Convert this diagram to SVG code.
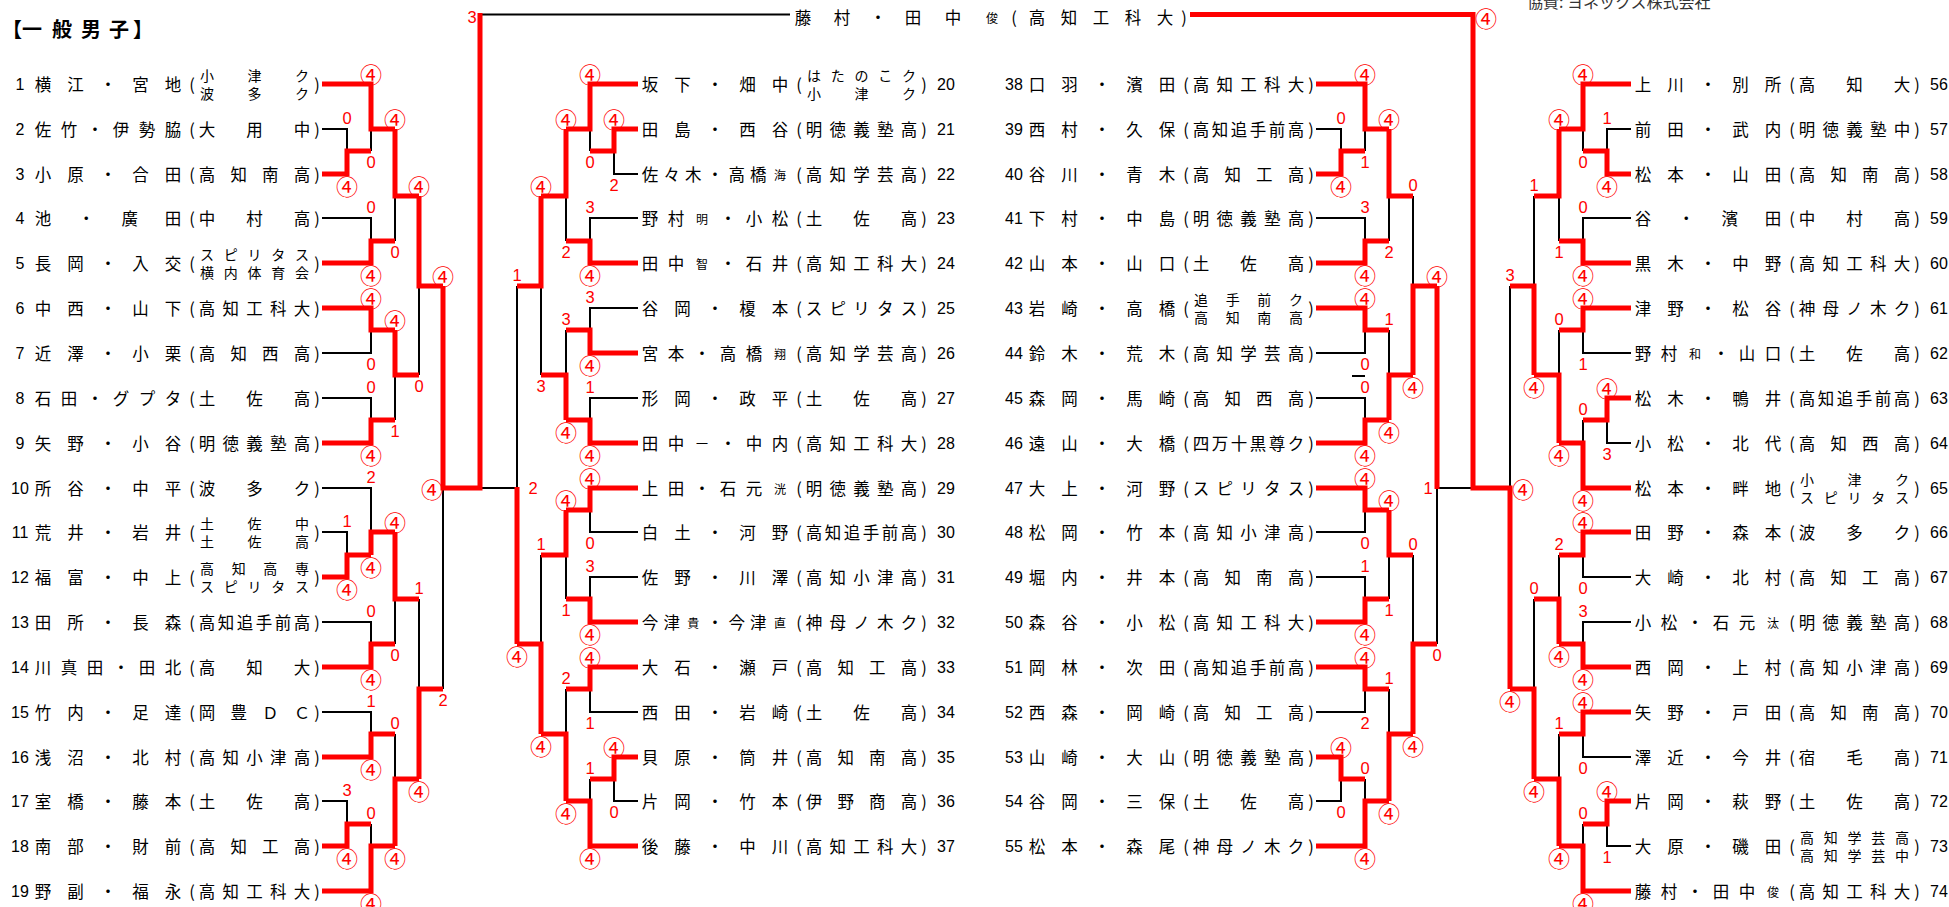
<svg xmlns="http://www.w3.org/2000/svg" width="1949" height="907" viewBox="0 0 1949 907">
<style>
text{font-family:"Noto Sans CJK JP","Noto Sans CJK SC",sans-serif;font-size:16.5px;fill:#000;text-anchor:middle;dominant-baseline:central}
.no{font-family:"Liberation Sans",Arial,sans-serif;font-size:16px}
.nr{font-family:"Liberation Sans",Arial,sans-serif;font-size:16px;text-anchor:start}
.tw{font-size:14px}
.sm{font-size:12px}
.d{font-family:"Liberation Sans",Arial,sans-serif;font-size:16.5px;fill:#f00}
.q{font-size:22px;fill:#f00}
.ttl{font-size:20px;font-weight:bold}
.r{fill:none;stroke:#f00;stroke-width:5;stroke-linejoin:miter}
.b{fill:none;stroke:#000;stroke-width:2}
</style>
<rect width="1949" height="907" fill="#fff"/>
<g id="title"><text class="ttl" y="28" x="12 32 62 91 119 143">【一般男子】</text></g>
<g id="sponsor"><text x="1527" y="8" style="text-anchor:start;dominant-baseline:alphabetic;font-size:16px;fill:#333">協賛: ヨネックス株式会社</text></g>
<g id="champion"><text y="17" x="803 842 878 913 953 992 1014 1037 1069 1101 1133 1165 1184">藤村・田中<tspan class="sm">俊</tspan>(高知工科大)</text></g>

<g id="connectors">
<path class="b" d="M322 129H347V151M371 151V129M322 218H371V241M395 241V196M322 353H371V330M322 398H371V420M395 420V375M419 375V286M322 532H347V555M322 488H371V532M322 622H371V644M395 644V599M322 712H371V734M322 801H347V824M371 824V846M395 734V779M419 599V689M443 689V488M480 14.5H790M517 488H480
M638 174H614V151M590 151V129M638 218H590V241M566 241V196M638 308H590V330M638 398H590V420M566 330V375M541 375V286M638 532H590V510M638 577H590V599M566 599V555M638 712H590V689M638 801H614V779M590 779V801M566 689V734M541 555V644M517 286V488
M1316 129H1341V151M1365 151V129M1316 218H1365V241M1389 241V196M1316 353H1365V330M1316 398H1365V420M1389 330V375M1413 196V286M1316 532H1365V510M1316 577H1365V599M1389 599V555M1316 712H1365V689M1316 801H1341V779M1365 779V801M1389 689V734M1413 555V644M1437 644V488M1437 488H1473M1352 376H1365
M1631 129H1607V151M1583 151V129M1631 218H1583V241M1559 241V196M1631 353H1583V330M1631 443H1607V420M1583 420V443M1559 330V375M1534 196V286M1631 577H1583V555M1631 622H1583V644M1559 555V599M1631 757H1583V734M1631 846H1607V824M1583 824V846M1559 734V779M1534 599V689M1510 286V488"/>
<path class="r" d="M322 174H347V151H371M322 84H371V129H395M322 263H371V241H395M395 129V196H419M322 308H371V330H395M322 443H371V420H395M395 330V375H419M419 196V286H443M322 577H347V555H371M371 555V532H395M322 667H371V644H395M395 532V599H419M322 757H371V734H395M322 846H347V824H371M322 891H371V846H395M395 846V779H419M419 779V689H443M443 286V488H480V13
M638 129H614V151H590M638 84H590V129H566M638 263H590V241H566M566 129V196H541M638 353H590V330H566M638 443H590V420H566M566 420V375H541M541 196V286H517M638 488H590V510H566M638 622H590V599H566M566 510V555H541M638 667H590V689H566M638 757H614V779H590M638 846H590V801H566M566 801V734H541M541 734V644H517M517 644V487
M1316 174H1341V151H1365M1316 84H1365V129H1389M1316 263H1365V241H1389M1389 129V196H1413M1316 308H1365V330H1389M1316 443H1365V420H1389M1389 420V375H1413M1413 375V286H1437M1316 488H1365V510H1389M1316 622H1365V599H1389M1389 510V555H1413M1316 667H1365V689H1389M1316 757H1341V779H1365M1316 846H1365V801H1389M1389 801V734H1413M1413 734V644H1437M1437 286V489
M1631 174H1607V151H1583M1631 84H1583V129H1559M1631 263H1583V241H1559M1559 129V196H1534M1631 308H1583V330H1559M1631 398H1607V420H1583M1631 488H1583V443H1559M1559 443V375H1534M1534 375V286H1510M1631 532H1583V555H1559M1631 667H1583V644H1559M1559 644V599H1534M1631 712H1583V734H1559M1631 801H1607V824H1583M1631 891H1583V846H1559M1559 846V779H1534M1534 779V689H1510M1510 689V488H1473V14.5H1190"/>
</g>

<g id="scores">
<text class="d" x="347" y="118">0</text><text class="q" x="347" y="185">④</text>
<text class="q" x="371" y="73">④</text><text class="d" x="371" y="162">0</text>
<text class="d" x="371" y="207">0</text><text class="q" x="371" y="274">④</text>
<text class="q" x="395" y="118">④</text><text class="d" x="395" y="252">0</text>
<text class="q" x="371" y="297">④</text><text class="d" x="371" y="364">0</text>
<text class="d" x="371" y="387">0</text><text class="q" x="371" y="454">④</text>
<text class="q" x="395" y="319">④</text><text class="d" x="395" y="431">1</text>
<text class="q" x="419" y="185">④</text><text class="d" x="419" y="386">0</text>
<text class="d" x="347" y="521">1</text><text class="q" x="347" y="588">④</text>
<text class="d" x="371" y="477">2</text><text class="q" x="371" y="566">④</text>
<text class="d" x="371" y="611">0</text><text class="q" x="371" y="678">④</text>
<text class="q" x="395" y="521">④</text><text class="d" x="395" y="655">0</text>
<text class="d" x="371" y="701">1</text><text class="q" x="371" y="768">④</text>
<text class="d" x="347" y="790">3</text><text class="q" x="347" y="857">④</text>
<text class="d" x="371" y="813">0</text><text class="q" x="371" y="902">④</text>
<text class="d" x="395" y="723">0</text><text class="q" x="395" y="857">④</text>
<text class="d" x="419" y="588">1</text><text class="q" x="419" y="790">④</text>
<text class="q" x="443" y="275">④</text><text class="d" x="443" y="700">2</text>
<text class="q" x="432" y="488">④</text><text class="d" x="472" y="17">3</text>

<text class="q" x="614" y="118">④</text><text class="d" x="614" y="185">2</text>
<text class="q" x="590" y="73">④</text><text class="d" x="590" y="162">0</text>
<text class="d" x="590" y="207">3</text><text class="q" x="590" y="274">④</text>
<text class="q" x="566" y="118">④</text><text class="d" x="566" y="252">2</text>
<text class="d" x="590" y="297">3</text><text class="q" x="590" y="364">④</text>
<text class="d" x="590" y="387">1</text><text class="q" x="590" y="454">④</text>
<text class="d" x="566" y="319">3</text><text class="q" x="566" y="431">④</text>
<text class="q" x="541" y="185">④</text><text class="d" x="541" y="386">3</text>
<text class="q" x="590" y="477">④</text><text class="d" x="590" y="543">0</text>
<text class="d" x="590" y="566">3</text><text class="q" x="590" y="633">④</text>
<text class="q" x="566" y="499">④</text><text class="d" x="566" y="610">1</text>
<text class="q" x="590" y="656">④</text><text class="d" x="590" y="723">1</text>
<text class="q" x="614" y="746">④</text><text class="d" x="614" y="812">0</text>
<text class="d" x="590" y="768">1</text><text class="q" x="590" y="857">④</text>
<text class="d" x="566" y="678">2</text><text class="q" x="566" y="812">④</text>
<text class="d" x="541" y="544">1</text><text class="q" x="541" y="745">④</text>
<text class="d" x="517" y="275">1</text><text class="q" x="517" y="655">④</text>
<text class="d" x="533" y="488">2</text>

<text class="d" x="1341" y="118">0</text><text class="q" x="1341" y="185">④</text>
<text class="q" x="1365" y="73">④</text><text class="d" x="1365" y="162">1</text>
<text class="d" x="1365" y="207">3</text><text class="q" x="1365" y="274">④</text>
<text class="q" x="1389" y="118">④</text><text class="d" x="1389" y="252">2</text>
<text class="q" x="1365" y="297">④</text><text class="d" x="1365" y="364">0</text>
<text class="d" x="1365" y="387">0</text><text class="q" x="1365" y="454">④</text>
<text class="d" x="1389" y="319">1</text><text class="q" x="1389" y="431">④</text>
<text class="d" x="1413" y="185">0</text><text class="q" x="1413" y="386">④</text>
<text class="q" x="1365" y="477">④</text><text class="d" x="1365" y="543">0</text>
<text class="d" x="1365" y="566">1</text><text class="q" x="1365" y="633">④</text>
<text class="q" x="1389" y="499">④</text><text class="d" x="1389" y="610">1</text>
<text class="q" x="1365" y="656">④</text><text class="d" x="1365" y="723">2</text>
<text class="q" x="1341" y="746">④</text><text class="d" x="1341" y="812">0</text>
<text class="d" x="1365" y="768">0</text><text class="q" x="1365" y="857">④</text>
<text class="d" x="1389" y="678">1</text><text class="q" x="1389" y="812">④</text>
<text class="d" x="1413" y="544">0</text><text class="q" x="1413" y="745">④</text>
<text class="q" x="1437" y="275">④</text><text class="d" x="1437" y="655">0</text>
<text class="d" x="1428" y="488">1</text>

<text class="d" x="1607" y="118">1</text><text class="q" x="1607" y="185">④</text>
<text class="q" x="1583" y="73">④</text><text class="d" x="1583" y="162">0</text>
<text class="d" x="1583" y="207">0</text><text class="q" x="1583" y="274">④</text>
<text class="q" x="1559" y="118">④</text><text class="d" x="1559" y="252">1</text>
<text class="q" x="1583" y="297">④</text><text class="d" x="1583" y="364">1</text>
<text class="q" x="1607" y="387">④</text><text class="d" x="1607" y="454">3</text>
<text class="d" x="1583" y="409">0</text><text class="q" x="1583" y="499">④</text>
<text class="d" x="1559" y="319">0</text><text class="q" x="1559" y="454">④</text>
<text class="d" x="1534" y="185">1</text><text class="q" x="1534" y="386">④</text>
<text class="q" x="1583" y="521">④</text><text class="d" x="1583" y="588">0</text>
<text class="d" x="1583" y="611">3</text><text class="q" x="1583" y="678">④</text>
<text class="d" x="1559" y="544">2</text><text class="q" x="1559" y="655">④</text>
<text class="q" x="1583" y="701">④</text><text class="d" x="1583" y="768">0</text>
<text class="q" x="1607" y="790">④</text><text class="d" x="1607" y="857">1</text>
<text class="d" x="1583" y="813">0</text><text class="q" x="1583" y="902">④</text>
<text class="d" x="1559" y="723">1</text><text class="q" x="1559" y="857">④</text>
<text class="d" x="1534" y="588">0</text><text class="q" x="1534" y="790">④</text>
<text class="d" x="1510" y="275">3</text><text class="q" x="1510" y="700">④</text>
<text class="q" x="1523" y="488">④</text><text class="q" x="1486" y="17">④</text>
</g>

<g id="entries">
<g id="e1" transform="translate(0,84)"><text class="no" x="20">1</text><text x="43 75.5 108 140.5 173">横江・宮地</text><text x="192 317">()</text><text class="tw" y="-9" x="207 254.5 302">小津ク</text><text class="tw" y="9" x="207 254.5 302">波多ク</text></g>
<g id="e2" transform="translate(0,129)"><text class="no" x="20">2</text><text x="43 69 95 121 147 173">佐竹・伊勢脇</text><text x="192 207 254.5 302 317">(大用中)</text></g>
<g id="e3" transform="translate(0,174)"><text class="no" x="20">3</text><text x="43 75.5 108 140.5 173">小原・合田</text><text x="192 207 238.7 270.3 302 317">(高知南高)</text></g>
<g id="e4" transform="translate(0,218)"><text class="no" x="20">4</text><text x="43 86.3 129.7 173">池・廣田</text><text x="192 207 254.5 302 317">(中村高)</text></g>
<g id="e5" transform="translate(0,263)"><text class="no" x="20">5</text><text x="43 75.5 108 140.5 173">長岡・入交</text><text x="192 317">()</text><text class="tw" y="-9" x="207 230.75 254.5 278.25 302">スピリタス</text><text class="tw" y="9" x="207 230.75 254.5 278.25 302">横内体育会</text></g>
<g id="e6" transform="translate(0,308)"><text class="no" x="20">6</text><text x="43 75.5 108 140.5 173">中西・山下</text><text x="192 207 230.75 254.5 278.25 302 317">(高知工科大)</text></g>
<g id="e7" transform="translate(0,353)"><text class="no" x="20">7</text><text x="43 75.5 108 140.5 173">近澤・小栗</text><text x="192 207 238.7 270.3 302 317">(高知西高)</text></g>
<g id="e8" transform="translate(0,398)"><text class="no" x="20">8</text><text x="43 69 95 121 147 173">石田・グプタ</text><text x="192 207 254.5 302 317">(土佐高)</text></g>
<g id="e9" transform="translate(0,443)"><text class="no" x="20">9</text><text x="43 75.5 108 140.5 173">矢野・小谷</text><text x="192 207 230.75 254.5 278.25 302 317">(明徳義塾高)</text></g>
<g id="e10" transform="translate(0,488)"><text class="no" x="20">10</text><text x="43 75.5 108 140.5 173">所谷・中平</text><text x="192 207 254.5 302 317">(波多ク)</text></g>
<g id="e11" transform="translate(0,532)"><text class="no" x="20">11</text><text x="43 75.5 108 140.5 173">荒井・岩井</text><text x="192 317">()</text><text class="tw" y="-9" x="207 254.5 302">土佐中</text><text class="tw" y="9" x="207 254.5 302">土佐高</text></g>
<g id="e12" transform="translate(0,577)"><text class="no" x="20">12</text><text x="43 75.5 108 140.5 173">福富・中上</text><text x="192 317">()</text><text class="tw" y="-9" x="207 238.7 270.3 302">高知高専</text><text class="tw" y="9" x="207 230.75 254.5 278.25 302">スピリタス</text></g>
<g id="e13" transform="translate(0,622)"><text class="no" x="20">13</text><text x="43 75.5 108 140.5 173">田所・長森</text><text x="192 207 226 245 264 283 302 317">(高知追手前高)</text></g>
<g id="e14" transform="translate(0,667)"><text class="no" x="20">14</text><text x="43 69 95 121 147 173">川真田・田北</text><text x="192 207 254.5 302 317">(高知大)</text></g>
<g id="e15" transform="translate(0,712)"><text class="no" x="20">15</text><text x="43 75.5 108 140.5 173">竹内・足達</text><text x="192 207 238.7 270.3 302 317">(岡豊ＤＣ)</text></g>
<g id="e16" transform="translate(0,757)"><text class="no" x="20">16</text><text x="43 75.5 108 140.5 173">浅沼・北村</text><text x="192 207 230.75 254.5 278.25 302 317">(高知小津高)</text></g>
<g id="e17" transform="translate(0,801)"><text class="no" x="20">17</text><text x="43 75.5 108 140.5 173">室橋・藤本</text><text x="192 207 254.5 302 317">(土佐高)</text></g>
<g id="e18" transform="translate(0,846)"><text class="no" x="20">18</text><text x="43 75.5 108 140.5 173">南部・財前</text><text x="192 207 238.7 270.3 302 317">(高知工高)</text></g>
<g id="e19" transform="translate(0,891)"><text class="no" x="20">19</text><text x="43 75.5 108 140.5 173">野副・福永</text><text x="192 207 230.75 254.5 278.25 302 317">(高知工科大)</text></g>

<g id="e20" transform="translate(607,84)"><text x="43 75.5 108 140.5 173">坂下・畑中</text><text x="192 317">()</text><text class="tw" y="-9" x="207 230.75 254.5 278.25 302">はたのこク</text><text class="tw" y="9" x="207 254.5 302">小津ク</text><text class="nr" x="330">20</text></g>
<g id="e21" transform="translate(607,129)"><text x="43 75.5 108 140.5 173">田島・西谷</text><text x="192 207 230.75 254.5 278.25 302 317">(明徳義塾高)</text><text class="nr" x="330">21</text></g>
<g id="e22" transform="translate(607,174)"><text x="43 64.7 86.3 108 129.7 151.3 173">佐々木・高橋<tspan class="sm">海</tspan></text><text x="192 207 230.75 254.5 278.25 302 317">(高知学芸高)</text><text class="nr" x="330">22</text></g>
<g id="e23" transform="translate(607,218)"><text x="43 69 95 121 147 173">野村<tspan class="sm">明</tspan>・小松</text><text x="192 207 254.5 302 317">(土佐高)</text><text class="nr" x="330">23</text></g>
<g id="e24" transform="translate(607,263)"><text x="43 69 95 121 147 173">田中<tspan class="sm">智</tspan>・石井</text><text x="192 207 230.75 254.5 278.25 302 317">(高知工科大)</text><text class="nr" x="330">24</text></g>
<g id="e25" transform="translate(607,308)"><text x="43 75.5 108 140.5 173">谷岡・榎本</text><text x="192 207 230.75 254.5 278.25 302 317">(スピリタス)</text><text class="nr" x="330">25</text></g>
<g id="e26" transform="translate(607,353)"><text x="43 69 95 121 147 173">宮本・高橋<tspan class="sm">翔</tspan></text><text x="192 207 230.75 254.5 278.25 302 317">(高知学芸高)</text><text class="nr" x="330">26</text></g>
<g id="e27" transform="translate(607,398)"><text x="43 75.5 108 140.5 173">形岡・政平</text><text x="192 207 254.5 302 317">(土佐高)</text><text class="nr" x="330">27</text></g>
<g id="e28" transform="translate(607,443)"><text x="43 69 95 121 147 173">田中<tspan class="sm">一</tspan>・中内</text><text x="192 207 230.75 254.5 278.25 302 317">(高知工科大)</text><text class="nr" x="330">28</text></g>
<g id="e29" transform="translate(607,488)"><text x="43 69 95 121 147 173">上田・石元<tspan class="sm">洸</tspan></text><text x="192 207 230.75 254.5 278.25 302 317">(明徳義塾高)</text><text class="nr" x="330">29</text></g>
<g id="e30" transform="translate(607,532)"><text x="43 75.5 108 140.5 173">白土・河野</text><text x="192 207 226 245 264 283 302 317">(高知追手前高)</text><text class="nr" x="330">30</text></g>
<g id="e31" transform="translate(607,577)"><text x="43 75.5 108 140.5 173">佐野・川澤</text><text x="192 207 230.75 254.5 278.25 302 317">(高知小津高)</text><text class="nr" x="330">31</text></g>
<g id="e32" transform="translate(607,622)"><text x="43 64.7 86.3 108 129.7 151.3 173">今津<tspan class="sm">貴</tspan>・今津<tspan class="sm">直</tspan></text><text x="192 207 230.75 254.5 278.25 302 317">(神母ノ木ク)</text><text class="nr" x="330">32</text></g>
<g id="e33" transform="translate(607,667)"><text x="43 75.5 108 140.5 173">大石・瀬戸</text><text x="192 207 238.7 270.3 302 317">(高知工高)</text><text class="nr" x="330">33</text></g>
<g id="e34" transform="translate(607,712)"><text x="43 75.5 108 140.5 173">西田・岩崎</text><text x="192 207 254.5 302 317">(土佐高)</text><text class="nr" x="330">34</text></g>
<g id="e35" transform="translate(607,757)"><text x="43 75.5 108 140.5 173">貝原・筒井</text><text x="192 207 238.7 270.3 302 317">(高知南高)</text><text class="nr" x="330">35</text></g>
<g id="e36" transform="translate(607,801)"><text x="43 75.5 108 140.5 173">片岡・竹本</text><text x="192 207 238.7 270.3 302 317">(伊野商高)</text><text class="nr" x="330">36</text></g>
<g id="e37" transform="translate(607,846)"><text x="43 75.5 108 140.5 173">後藤・中川</text><text x="192 207 230.75 254.5 278.25 302 317">(高知工科大)</text><text class="nr" x="330">37</text></g>

<g id="e38" transform="translate(994,84)"><text class="no" x="20">38</text><text x="43 75.5 108 140.5 173">口羽・濱田</text><text x="192 207 230.75 254.5 278.25 302 317">(高知工科大)</text></g>
<g id="e39" transform="translate(994,129)"><text class="no" x="20">39</text><text x="43 75.5 108 140.5 173">西村・久保</text><text x="192 207 226 245 264 283 302 317">(高知追手前高)</text></g>
<g id="e40" transform="translate(994,174)"><text class="no" x="20">40</text><text x="43 75.5 108 140.5 173">谷川・青木</text><text x="192 207 238.7 270.3 302 317">(高知工高)</text></g>
<g id="e41" transform="translate(994,218)"><text class="no" x="20">41</text><text x="43 75.5 108 140.5 173">下村・中島</text><text x="192 207 230.75 254.5 278.25 302 317">(明徳義塾高)</text></g>
<g id="e42" transform="translate(994,263)"><text class="no" x="20">42</text><text x="43 75.5 108 140.5 173">山本・山口</text><text x="192 207 254.5 302 317">(土佐高)</text></g>
<g id="e43" transform="translate(994,308)"><text class="no" x="20">43</text><text x="43 75.5 108 140.5 173">岩崎・高橋</text><text x="192 317">()</text><text class="tw" y="-9" x="207 238.7 270.3 302">追手前ク</text><text class="tw" y="9" x="207 238.7 270.3 302">高知南高</text></g>
<g id="e44" transform="translate(994,353)"><text class="no" x="20">44</text><text x="43 75.5 108 140.5 173">鈴木・荒木</text><text x="192 207 230.75 254.5 278.25 302 317">(高知学芸高)</text></g>
<g id="e45" transform="translate(994,398)"><text class="no" x="20">45</text><text x="43 75.5 108 140.5 173">森岡・馬崎</text><text x="192 207 238.7 270.3 302 317">(高知西高)</text></g>
<g id="e46" transform="translate(994,443)"><text class="no" x="20">46</text><text x="43 75.5 108 140.5 173">遠山・大橋</text><text x="192 207 226 245 264 283 302 317">(四万十黒尊ク)</text></g>
<g id="e47" transform="translate(994,488)"><text class="no" x="20">47</text><text x="43 75.5 108 140.5 173">大上・河野</text><text x="192 207 230.75 254.5 278.25 302 317">(スピリタス)</text></g>
<g id="e48" transform="translate(994,532)"><text class="no" x="20">48</text><text x="43 75.5 108 140.5 173">松岡・竹本</text><text x="192 207 230.75 254.5 278.25 302 317">(高知小津高)</text></g>
<g id="e49" transform="translate(994,577)"><text class="no" x="20">49</text><text x="43 75.5 108 140.5 173">堀内・井本</text><text x="192 207 238.7 270.3 302 317">(高知南高)</text></g>
<g id="e50" transform="translate(994,622)"><text class="no" x="20">50</text><text x="43 75.5 108 140.5 173">森谷・小松</text><text x="192 207 230.75 254.5 278.25 302 317">(高知工科大)</text></g>
<g id="e51" transform="translate(994,667)"><text class="no" x="20">51</text><text x="43 75.5 108 140.5 173">岡林・次田</text><text x="192 207 226 245 264 283 302 317">(高知追手前高)</text></g>
<g id="e52" transform="translate(994,712)"><text class="no" x="20">52</text><text x="43 75.5 108 140.5 173">西森・岡崎</text><text x="192 207 238.7 270.3 302 317">(高知工高)</text></g>
<g id="e53" transform="translate(994,757)"><text class="no" x="20">53</text><text x="43 75.5 108 140.5 173">山崎・大山</text><text x="192 207 230.75 254.5 278.25 302 317">(明徳義塾高)</text></g>
<g id="e54" transform="translate(994,801)"><text class="no" x="20">54</text><text x="43 75.5 108 140.5 173">谷岡・三保</text><text x="192 207 254.5 302 317">(土佐高)</text></g>
<g id="e55" transform="translate(994,846)"><text class="no" x="20">55</text><text x="43 75.5 108 140.5 173">松本・森尾</text><text x="192 207 230.75 254.5 278.25 302 317">(神母ノ木ク)</text></g>

<g id="e56" transform="translate(1600,84)"><text x="43 75.5 108 140.5 173">上川・別所</text><text x="192 207 254.5 302 317">(高知大)</text><text class="nr" x="330">56</text></g>
<g id="e57" transform="translate(1600,129)"><text x="43 75.5 108 140.5 173">前田・武内</text><text x="192 207 230.75 254.5 278.25 302 317">(明徳義塾中)</text><text class="nr" x="330">57</text></g>
<g id="e58" transform="translate(1600,174)"><text x="43 75.5 108 140.5 173">松本・山田</text><text x="192 207 238.7 270.3 302 317">(高知南高)</text><text class="nr" x="330">58</text></g>
<g id="e59" transform="translate(1600,218)"><text x="43 86.3 129.7 173">谷・濱田</text><text x="192 207 254.5 302 317">(中村高)</text><text class="nr" x="330">59</text></g>
<g id="e60" transform="translate(1600,263)"><text x="43 75.5 108 140.5 173">黒木・中野</text><text x="192 207 230.75 254.5 278.25 302 317">(高知工科大)</text><text class="nr" x="330">60</text></g>
<g id="e61" transform="translate(1600,308)"><text x="43 75.5 108 140.5 173">津野・松谷</text><text x="192 207 230.75 254.5 278.25 302 317">(神母ノ木ク)</text><text class="nr" x="330">61</text></g>
<g id="e62" transform="translate(1600,353)"><text x="43 69 95 121 147 173">野村<tspan class="sm">和</tspan>・山口</text><text x="192 207 254.5 302 317">(土佐高)</text><text class="nr" x="330">62</text></g>
<g id="e63" transform="translate(1600,398)"><text x="43 75.5 108 140.5 173">松木・鴨井</text><text x="192 207 226 245 264 283 302 317">(高知追手前高)</text><text class="nr" x="330">63</text></g>
<g id="e64" transform="translate(1600,443)"><text x="43 75.5 108 140.5 173">小松・北代</text><text x="192 207 238.7 270.3 302 317">(高知西高)</text><text class="nr" x="330">64</text></g>
<g id="e65" transform="translate(1600,488)"><text x="43 75.5 108 140.5 173">松本・畔地</text><text x="192 317">()</text><text class="tw" y="-9" x="207 254.5 302">小津ク</text><text class="tw" y="9" x="207 230.75 254.5 278.25 302">スピリタス</text><text class="nr" x="330">65</text></g>
<g id="e66" transform="translate(1600,532)"><text x="43 75.5 108 140.5 173">田野・森本</text><text x="192 207 254.5 302 317">(波多ク)</text><text class="nr" x="330">66</text></g>
<g id="e67" transform="translate(1600,577)"><text x="43 75.5 108 140.5 173">大崎・北村</text><text x="192 207 238.7 270.3 302 317">(高知工高)</text><text class="nr" x="330">67</text></g>
<g id="e68" transform="translate(1600,622)"><text x="43 69 95 121 147 173">小松・石元<tspan class="sm">汰</tspan></text><text x="192 207 230.75 254.5 278.25 302 317">(明徳義塾高)</text><text class="nr" x="330">68</text></g>
<g id="e69" transform="translate(1600,667)"><text x="43 75.5 108 140.5 173">西岡・上村</text><text x="192 207 230.75 254.5 278.25 302 317">(高知小津高)</text><text class="nr" x="330">69</text></g>
<g id="e70" transform="translate(1600,712)"><text x="43 75.5 108 140.5 173">矢野・戸田</text><text x="192 207 238.7 270.3 302 317">(高知南高)</text><text class="nr" x="330">70</text></g>
<g id="e71" transform="translate(1600,757)"><text x="43 75.5 108 140.5 173">澤近・今井</text><text x="192 207 254.5 302 317">(宿毛高)</text><text class="nr" x="330">71</text></g>
<g id="e72" transform="translate(1600,801)"><text x="43 75.5 108 140.5 173">片岡・萩野</text><text x="192 207 254.5 302 317">(土佐高)</text><text class="nr" x="330">72</text></g>
<g id="e73" transform="translate(1600,846)"><text x="43 75.5 108 140.5 173">大原・磯田</text><text x="192 317">()</text><text class="tw" y="-9" x="207 230.75 254.5 278.25 302">高知学芸高</text><text class="tw" y="9" x="207 230.75 254.5 278.25 302">高知学芸中</text><text class="nr" x="330">73</text></g>
<g id="e74" transform="translate(1600,891)"><text x="43 69 95 121 147 173">藤村・田中<tspan class="sm">俊</tspan></text><text x="192 207 230.75 254.5 278.25 302 317">(高知工科大)</text><text class="nr" x="330">74</text></g>
</g>
</svg>
